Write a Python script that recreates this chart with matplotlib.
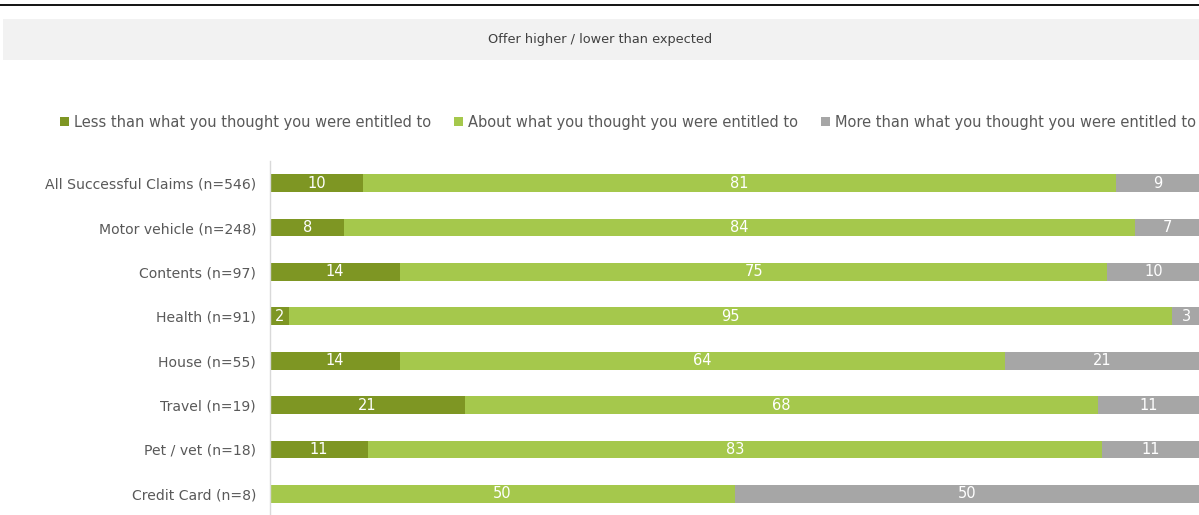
import matplotlib
matplotlib.use("Agg")
import matplotlib.pyplot as plt
from matplotlib.patches import Rectangle, Patch
from matplotlib.lines import Line2D
import numpy as np

categories = ["All Successful Claims (n=546)", "Motor vehicle (n=248)", "Contents (n=97)",
              "Health (n=91)", "House (n=55)", "Travel (n=19)", "Pet / vet (n=18)", "Credit Card (n=8)"]
# segment widths as drawn
less = [10, 8, 14, 2, 14, 21, 10.5, 0]
about = [81, 85, 76, 95, 65, 68, 79, 50]
more = [9, 7, 10, 3, 21, 11, 10.5, 50]
# printed labels
less_lbl = ["10", "8", "14", "2", "14", "21", "11", ""]
about_lbl = ["81", "84", "75", "95", "64", "68", "83", "50"]
more_lbl = ["9", "7", "10", "3", "21", "11", "11", "50"]
series_names = ["Less than what you thought you were entitled to",
                "About what you thought you were entitled to",
                "More than what you thought you were entitled to"]
colors = ["#7E9623", "#A5C84C", "#A6A6A6"]
title = "Offer higher / lower than expected"

W, H = 1199, 515
fig = plt.figure(figsize=(W / 100, H / 100), dpi=100)
fig.patch.set_facecolor("white")

# top black line
fig.add_artist(Line2D([0, 1], [1 - 5 / H, 1 - 5 / H], color="black", lw=1.3, transform=fig.transFigure))
# title band
fig.add_artist(Rectangle((3 / W, 1 - 60 / H), 1, 41 / H, transform=fig.transFigure,
                         facecolor="#F2F2F2", edgecolor="none"))
fig.text(600 / W, 1 - 40 / H, title, ha="center", va="center", fontsize=9.3,
         color="#404040", family=["Liberation Sans Narrow", "DejaVu Sans"])

ax = fig.add_axes([270 / W, -1 / H, 930 / W, (517 - 162) / H])
y = np.arange(len(categories))
left = np.zeros(len(categories))
for vals, lbls, col in zip([less, about, more], [less_lbl, about_lbl, more_lbl], colors):
    vals = np.array(vals, dtype=float)
    ax.barh(y, vals, left=left, height=0.4, color=col, edgecolor="none")
    for yi, l, v, t in zip(y, left, vals, lbls):
        if v > 0 and t:
            ax.text(l + v / 2, yi, t, ha="center", va="center", color="white", fontsize=10.5)
    left = left + vals

ax.set_xlim(0, 100)
ax.set_ylim(len(categories) - 0.5, -0.5)
ax.set_yticks(y)
ax.set_yticklabels(categories, fontsize=10.1, color="#595959")
ax.tick_params(axis="y", length=0, pad=10)
ax.set_xticks([])
for s in ["top", "right", "bottom"]:
    ax.spines[s].set_visible(False)
ax.spines["left"].set_color("#D9D9D9")
ax.spines["left"].set_linewidth(1)

handles = [Patch(facecolor=c, edgecolor="none") for c in colors]
fig.legend(handles, series_names, loc="center", bbox_to_anchor=(628 / W, 1 - 122 / H), ncol=3,
           frameon=False, fontsize=10.5, labelcolor="#595959", handlelength=0.6, handleheight=0.6,
           handletextpad=0.35, columnspacing=1.6)

fig.savefig("out.png", dpi=100, facecolor="white")
